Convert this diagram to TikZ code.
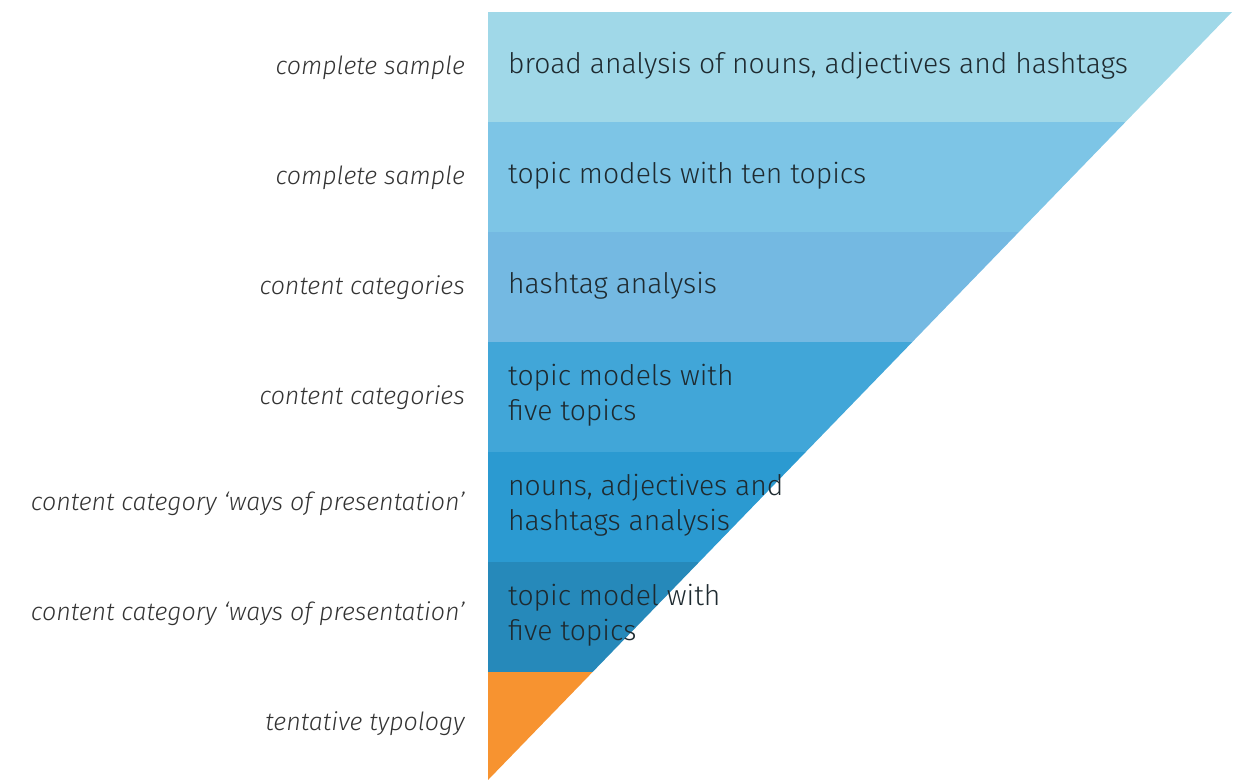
\documentclass[tikz,border=0pt]{standalone}
\usepackage{fontspec}
\setmainfont{Fira Sans}[UprightFont=* Light, ItalicFont=* Light Italic]
\definecolor{cA}{HTML}{A0D8E8}
\definecolor{cB}{HTML}{7DC5E6}
\definecolor{cC}{HTML}{74B9E2}
\definecolor{cD}{HTML}{41A6D8}
\definecolor{cE}{HTML}{2B9AD1}
\definecolor{cF}{HTML}{2689BA}
\definecolor{cG}{HTML}{F79330}
\definecolor{txt}{HTML}{1E2A30}
\definecolor{lab}{HTML}{333333}
\tikzset{
  bandtext/.style={anchor=west, align=left, text=txt, font=\fontsize{28.3}{35}\selectfont, inner sep=0pt},
  sidelabel/.style={anchor=east, text=lab, font=\itshape\fontsize{25}{28}\selectfont, inner sep=0pt}
}
\begin{document}
\begin{tikzpicture}[x=1pt,y=-1pt]
\useasboundingbox (0,0) rectangle (1239,780);
\begin{scope}
  \clip (488,12) -- (1232,12) -- (488,780) -- cycle;
  \fill[cA] (488,12) rectangle (1239,122);
  \fill[cB] (488,122) rectangle (1239,232);
  \fill[cC] (488,232) rectangle (1239,342);
  \fill[cD] (488,342) rectangle (1239,452);
  \fill[cE] (488,452) rectangle (1239,562);
  \fill[cF] (488,562) rectangle (1239,672);
  \fill[cG] (488,672) rectangle (1239,780);
\end{scope}
\node[bandtext] (t1) at (508,66) {broad analysis of nouns, adjectives and hashtags};
\node[bandtext] (t2) at (508,176) {topic models with ten topics};
\node[bandtext] (t3) at (508,286) {hashtag analysis};
\node[bandtext] (t4) at (508,395) {topic models with\\five topics};
\node[bandtext] (t5) at (508,505) {nouns, adjectives and\\hashtags analysis};
\node[bandtext] (t6) at (508,615) {topic model with\\five topics};
\node[sidelabel] (l1) at (465,68) {complete sample};
\node[sidelabel] (l2) at (465,178) {complete sample};
\node[sidelabel] (l3) at (465,288) {content categories};
\node[sidelabel] (l4) at (465,398) {content categories};
\node[sidelabel] (l5) at (465,504) {content category ‘ways of presentation’};
\node[sidelabel] (l6) at (465,614) {content category ‘ways of presentation’};
\node[sidelabel] (l7) at (465,724) {tentative typology};
\end{tikzpicture}
\end{document}
